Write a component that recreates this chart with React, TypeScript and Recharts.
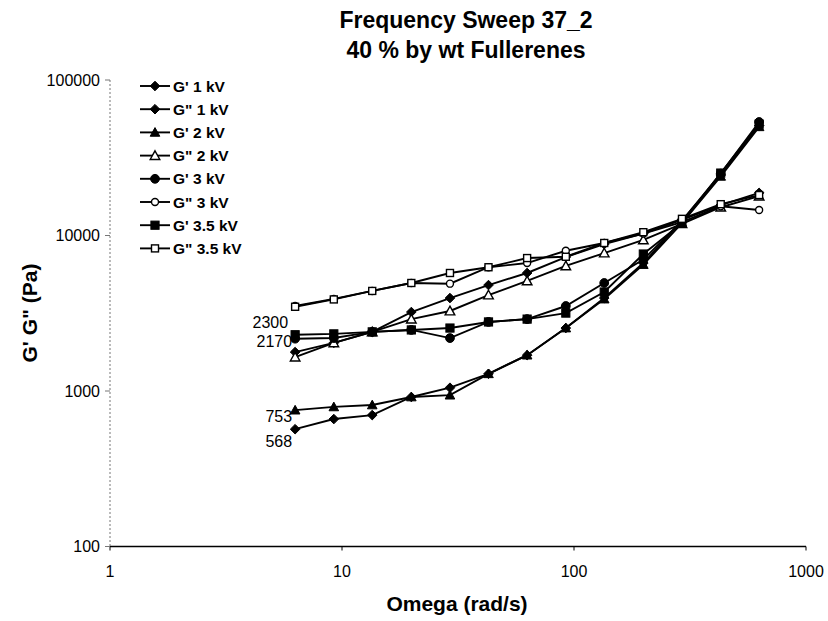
import React from 'react';
import { LineChart, Line, XAxis, YAxis, LabelList } from 'recharts';

// Angular frequency (rad/s)
const omega = [6.28, 9.22, 13.5, 19.9, 29.2, 42.8, 62.8, 92.2, 135, 199, 292, 429, 628];

// Moduli (Pa)
const gp1kV = [568, 660, 700, 915, 1050, 1290, 1700, 2540, 3960, 6650, 12400, 24500, 51000];
const gpp1kV = [1780, 2040, 2400, 3220, 3960, 4800, 5740, 7270, 8800, 10300, 12600, 15700, 18800];
const gp2kV = [753, 790, 813, 915, 940, 1290, 1700, 2540, 3900, 6500, 12000, 24000, 50000];
const gpp2kV = [1650, 2040, 2400, 2900, 3270, 4140, 5100, 6370, 7710, 9360, 11900, 15200, 17900];
const gp3kV = [2170, 2190, 2400, 2470, 2190, 2780, 2900, 3520, 4950, 7000, 12400, 25000, 53700];
const gpp3kV = [3520, 3910, 4400, 4950, 4900, 6250, 6650, 7980, 8950, 10300, 12200, 15400, 14600];
const gp35kV = [2300, 2330, 2400, 2470, 2540, 2780, 2900, 3170, 4330, 7600, 12000, 25200, 52000];
const gpp35kV = [3480, 3880, 4400, 4950, 5740, 6250, 7160, 7300, 8950, 10500, 12800, 15900, 18200];

const xTicks = [1, 10, 100, 1000];
const yTicks = [100, 1000, 10000, 100000];

const titleLines = ['Frequency Sweep 37_2', '40 % by wt Fullerenes'];
const xTitle = 'Omega (rad/s)';
const yTitle = 'G\'  G" (Pa)';

type Shape = 'diamond' | 'triangle' | 'circle' | 'square';

const series: { key: string; name: string; values: number[]; shape: Shape; filled: boolean; label?: { dx: number; dy: number } }[] = [
  { key: 'gp1', name: "G' 1 kV", values: gp1kV, shape: 'diamond', filled: true, label: { dx: -3, dy: 12 } },
  { key: 'gpp1', name: 'G" 1 kV', values: gpp1kV, shape: 'diamond', filled: true },
  { key: 'gp2', name: "G' 2 kV", values: gp2kV, shape: 'triangle', filled: true, label: { dx: -3, dy: 6 } },
  { key: 'gpp2', name: 'G" 2 kV', values: gpp2kV, shape: 'triangle', filled: false },
  { key: 'gp3', name: "G'  3 kV", values: gp3kV, shape: 'circle', filled: true, label: { dx: -3, dy: 3 } },
  { key: 'gpp3', name: 'G" 3 kV', values: gpp3kV, shape: 'circle', filled: false },
  { key: 'gp35', name: "G' 3.5 kV", values: gp35kV, shape: 'square', filled: true, label: { dx: -7, dy: -12 } },
  { key: 'gpp35', name: 'G" 3.5 kV', values: gpp35kV, shape: 'square', filled: false },
];

const rows = omega.map((w, i) => {
  const r: Record<string, number> = { omega: w };
  series.forEach((s) => {
    r[s.key] = s.values[i];
  });
  return r;
});

const FONT = '"Liberation Sans", Arial, Helvetica, sans-serif';

function marker(shape: Shape, filled: boolean, cx: number, cy: number, key?: string | number) {
  const fill = filled ? '#000' : '#fff';
  const sw = filled ? 1 : 1.4;
  if (shape === 'diamond') {
    const r = 4.8;
    return <polygon key={key} points={`${cx},${cy - r} ${cx + r},${cy} ${cx},${cy + r} ${cx - r},${cy}`} fill={fill} stroke="#000" strokeWidth={sw} />;
  }
  if (shape === 'triangle') {
    const r = 4.8;
    return <polygon key={key} points={`${cx},${cy - r} ${cx + r},${cy + r * 0.8} ${cx - r},${cy + r * 0.8}`} fill={fill} stroke="#000" strokeWidth={sw} />;
  }
  if (shape === 'circle') {
    return <circle key={key} cx={cx} cy={cy} r={filled ? 4.4 : 3.5} fill={fill} stroke="#000" strokeWidth={sw} />;
  }
  const h = filled ? 4.1 : 3.5;
  return <rect key={key} x={cx - h} y={cy - h} width={2 * h} height={2 * h} fill={fill} stroke="#000" strokeWidth={sw} />;
}

const makeDot = (shape: Shape, filled: boolean) => (props: any) => {
  const { cx, cy, index } = props;
  if (cx == null || cy == null) return <g key={index} />;
  return marker(shape, filled, cx, cy, index);
};

const makeLabel = (dx: number, dy: number) => (props: any) => {
  const { x, y, value, index } = props;
  if (index !== 0) return null;
  return (
    <text x={x + dx} y={y + dy} textAnchor="end" dominantBaseline="central" fontFamily={FONT} fontSize={16} fill="#000">
      {value}
    </text>
  );
};

const XTick = (props: any) => {
  const { x, y, payload } = props;
  return (
    <text x={x} y={y} dy={24} textAnchor="middle" fontFamily={FONT} fontSize={16} fill="#000">
      {payload.value}
    </text>
  );
};

const YTick = (props: any) => {
  const { x, y, payload } = props;
  return (
    <text x={x} y={y} dx={-3} dy={5.5} textAnchor="end" fontFamily={FONT} fontSize={16} fill="#000">
      {payload.value}
    </text>
  );
};

export default function App() {
  return (
    <div style={{ position: 'absolute', left: 0, top: 0, width: 828, height: 621, background: '#fff' }}>
      <LineChart
        width={828}
        height={621}
        data={rows}
        margin={{ top: 80, right: 22, bottom: 44.5, left: 50 }}
      >
        <XAxis
          dataKey="omega"
          type="number"
          scale="log"
          domain={[1, 1000]}
          ticks={xTicks}
          allowDataOverflow
          height={30}
          axisLine={{ stroke: '#000', strokeWidth: 1.5 }}
          tickLine={{ stroke: '#000' }}
          tickSize={4}
          tick={<XTick />}
          interval={0}
        />
        <YAxis
          type="number"
          scale="log"
          domain={[100, 100000]}
          ticks={yTicks}
          allowDataOverflow
          width={60}
          axisLine={{ stroke: '#777', strokeDasharray: '2 2' }}
          tickLine={{ stroke: '#777' }}
          tickSize={5}
          tick={<YTick />}
          interval={0}
        />
        {series.map((s) => (
          <Line
            key={s.key}
            dataKey={s.key}
            name={s.name}
            stroke="#000"
            strokeWidth={1.9}
            dot={makeDot(s.shape, s.filled)}
            activeDot={false}
            isAnimationActive={false}
          >
            {s.label ? <LabelList dataKey={s.key} content={makeLabel(s.label.dx, s.label.dy)} /> : null}
          </Line>
        ))}
      </LineChart>
      <svg width={828} height={621} style={{ position: 'absolute', left: 0, top: 0, pointerEvents: 'none' }}>
        {titleLines.map((t, i) => (
          <text key={t} x={466} y={28 + i * 30} textAnchor="middle" fontFamily={FONT} fontWeight="bold" fontSize={23} fill="#000">
            {t}
          </text>
        ))}
        <text x={457} y={611} textAnchor="middle" fontFamily={FONT} fontWeight="bold" fontSize={21} fill="#000">
          {xTitle}
        </text>
        <text
          x={37}
          y={313}
          textAnchor="middle"
          transform="rotate(-90 37 313)"
          fontFamily={FONT}
          fontWeight="bold"
          fontSize={21}
          fill="#000"
        >
          {yTitle}
        </text>
        {series.map((s, i) => {
          const cy = 86 + i * 23.2;
          return (
            <g key={s.key}>
              <line x1={140} x2={170} y1={cy} y2={cy} stroke="#000" strokeWidth={1.9} />
              {marker(s.shape, s.filled, 155, cy)}
              <text x={173} y={cy} dominantBaseline="central" fontFamily={FONT} fontWeight="bold" fontSize={15.5} fill="#000">
                {s.name}
              </text>
            </g>
          );
        })}
      </svg>
    </div>
  );
}
